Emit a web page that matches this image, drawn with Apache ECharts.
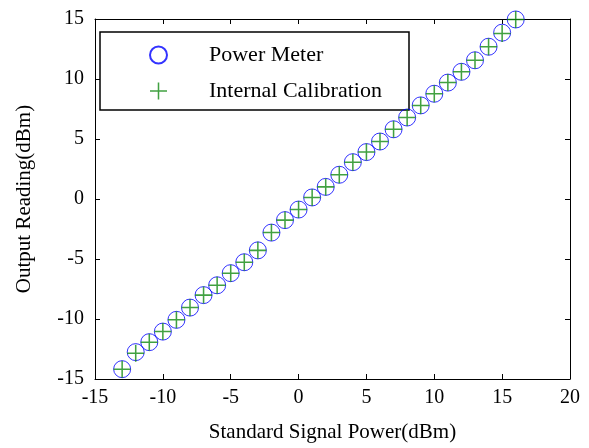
<!DOCTYPE html>
<html>
<head>
<meta charset="utf-8">
<script src="https://cdn.jsdelivr.net/npm/echarts@6/dist/echarts.min.js"></script>
<style>html,body{margin:0;padding:0;background:#fff;}#c{width:589px;height:448px;}</style>
</head>
<body>
<div id="c"></div>
<script>
var standardPower = [-13,-12,-11,-10,-9,-8,-7,-6,-5,-4,-3,-2,-1,0,1,2,3,4,5,6,7,8,9,10,11,12,13,14,15,16];
var powerMeter = [-14.18,-12.76,-11.93,-11.05,-10.07,-9.05,-8.01,-7.19,-6.18,-5.27,-4.28,-2.80,-1.76,-0.88,0.13,1.01,2.02,3.07,3.91,4.79,5.81,6.79,7.80,8.77,9.70,10.60,11.56,12.69,13.86,14.96];
var internalCal = [-14.18,-12.85,-11.93,-11.05,-10.07,-9.05,-8.01,-7.19,-6.18,-5.27,-4.28,-2.80,-1.76,-0.88,0.13,1.01,2.02,3.07,3.91,4.79,5.81,6.79,7.80,8.77,9.70,10.60,11.56,12.69,13.80,14.96];
var seriesNames = ['Power Meter','Internal Calibration'];
var xTitle = 'Standard Signal Power(dBm)';
var yTitle = 'Output Reading(dBm)';

function pairs(xs, ys){ return xs.map(function(x,i){ return [x, ys[i]]; }); }

var FONT = 'Liberation Serif';
var plusPath = 'path://M-0.09,-1 L0.09,-1 L0.09,-0.09 L1,-0.09 L1,0.09 L0.09,0.09 L0.09,1 L-0.09,1 L-0.09,0.09 L-1,0.09 L-1,-0.09 L-0.09,-0.09 Z';

var chart = echarts.init(document.getElementById('c'), null, {renderer:'canvas'});
var axisCommon = {
  axisLine:{show:true, onZero:false, lineStyle:{color:'#000', width:1}},
  axisTick:{show:true, inside:true, length:5, lineStyle:{color:'#000', width:1}},
  splitLine:{show:false}
};
chart.setOption({
  animation:false,
  backgroundColor:'#fff',
  grid:{left:95, right:19, top:19, bottom:64},
  graphic:[{type:'rect', z:1, shape:{x:100, y:32, width:309, height:78}, style:{fill:'#fff', stroke:'#000', lineWidth:1.5}}],
  legend:{
    orient:'vertical', left:149, top:44, itemWidth:17, itemHeight:17, itemGap:14, padding:0,
    textStyle:{fontFamily:FONT, fontSize:22, lineHeight:17, color:'#000', padding:[0,0,0,37]},
    data:seriesNames
  },
  xAxis:[
    Object.assign({type:'value', min:-15, max:20, interval:5, position:'bottom',
      axisLabel:{color:'#000', fontFamily:FONT, fontSize:20, margin:9},
      name:xTitle, nameLocation:'middle', nameGap:43,
      nameTextStyle:{color:'#000', fontFamily:FONT, fontSize:21}}, axisCommon),
    Object.assign({type:'value', min:-15, max:20, interval:5, position:'top', axisLabel:{show:false}}, axisCommon)
  ],
  yAxis:[
    Object.assign({type:'value', min:-15, max:15, interval:5, position:'left',
      axisLabel:{color:'#000', fontFamily:FONT, fontSize:20, margin:11},
      name:yTitle, nameLocation:'middle', nameGap:60,
      nameTextStyle:{color:'#000', fontFamily:FONT, fontSize:21}}, axisCommon),
    Object.assign({type:'value', min:-15, max:15, interval:5, position:'right', axisLabel:{show:false}}, axisCommon)
  ],
  series:[
    {name:seriesNames[0], type:'scatter', symbol:'circle', symbolSize:17, z:3,
     itemStyle:{color:'rgba(0,0,0,0)', borderColor:'#0000ff', borderWidth:1},
     data:pairs(standardPower, powerMeter)},
    {name:seriesNames[1], type:'scatter', symbol:plusPath, symbolSize:17, z:4,
     itemStyle:{color:'#118a11', borderWidth:0},
     data:pairs(standardPower, internalCal)}
  ]
});
</script>
</body>
</html>
